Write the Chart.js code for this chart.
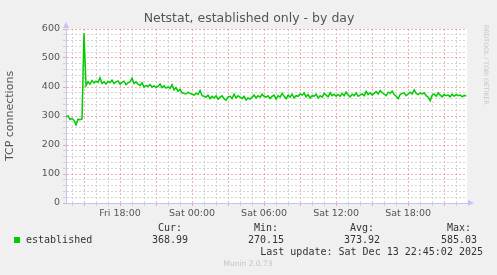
<!DOCTYPE html>
<html>
<head>
<meta charset="utf-8">
<script src="https://cdn.jsdelivr.net/npm/chart.js@4/dist/chart.umd.min.js"></script>
<style>
  html, body { margin: 0; padding: 0; background: #f0f0f0; }
  #wrap { width: 497px; height: 275px; }
</style>
</head>
<body>
<div id="wrap"><canvas id="myChart" width="497" height="275"></canvas></div>
<script>
// hours counted from Fri 00:00, one sample every 10 minutes
const startHour = 13.5;
const stepHour = 1 / 6;
const xMin = 13.5;
const xMax = 46.9;

const established = [
  297, 300, 288, 292, 285, 270, 289, 287, 290,
  585,
  405, 418, 410, 422, 414, 420,
  416, 432, 412, 418, 410, 420,
  415, 424, 412, 418, 421, 410,
  416, 420, 408, 414, 418, 430,
  412, 418, 410, 405, 415, 400,
  405, 402, 408, 400, 404, 398,
  402, 410, 398, 404, 396, 400,
  395, 408, 390, 398, 385, 392,
  380, 378, 376, 382, 378, 375,
  372, 378, 375, 388, 370, 368,
  365, 372, 360, 368, 362, 370,
  358, 365, 370, 360, 355, 366,
  368, 360, 375, 362, 370, 365,
  360, 368, 355, 362, 358, 365,
  372, 362, 370, 365, 375, 368,
  365, 370, 360, 368, 372, 358,
  370, 365, 378, 368, 360, 372,
  365, 375, 362, 370, 368, 376,
  372, 380, 366, 374, 362, 370,
  368, 375, 362, 370, 365, 378,
  372, 366, 380, 370, 375, 368,
  374, 368, 378, 370, 382, 372,
  366, 375, 370, 380, 368, 372,
  376, 370, 385, 374, 380, 372,
  378, 384, 376, 388, 380, 375,
  370, 382, 378, 386, 374, 368,
  360, 374, 378, 380, 370, 376,
  382, 376, 390, 378, 374, 380,
  376, 380, 370, 365, 353, 372,
  376, 368, 380, 372, 366, 374,
  370, 372, 366, 375, 368, 374,
  370, 372, 366, 371, 369
];

const times = established.map((v, i) => startHour + i * stepHour);

const xLabels = { 18: 'Fri 18:00', 24: 'Sat 00:00', 30: 'Sat 06:00', 36: 'Sat 12:00', 42: 'Sat 18:00' };

const chartTitle = 'Netstat, established only - by day';
const statHeads = ['Cur:', 'Min:', 'Avg:', 'Max:'];
const statValues = ['368.99', '270.15', '373.92', '585.03'];
const lastUpdate = 'Last update: Sat Dec 13 22:45:02 2025';

const majorGrid = 'rgba(235, 120, 120, 0.6)';
const minorGrid = '#d4d4d4';
const axisBlue = '#c4c4f4';

const munin = {
  id: 'munin',
  beforeDraw(chart) {
    const { ctx, chartArea: a } = chart;
    ctx.save();
    ctx.fillStyle = '#f0f0f0';
    ctx.fillRect(0, 0, chart.width, chart.height);
    ctx.fillStyle = '#ffffff';
    ctx.fillRect(a.left, a.top, a.right - a.left, a.bottom - a.top);
    ctx.restore();
  },
  afterDraw(chart) {
    const { ctx, chartArea: a } = chart;
    ctx.save();
    // title
    ctx.font = '12.5px "DejaVu Sans"';
    ctx.fillStyle = '#555';
    ctx.textAlign = 'center';
    ctx.textBaseline = 'middle';
    ctx.fillText(chartTitle, 249, 19);

    // axis arrows
    ctx.fillStyle = axisBlue;
    ctx.beginPath();
    ctx.moveTo(a.left - 3, a.top - 1);
    ctx.lineTo(a.left + 3, a.top - 1);
    ctx.lineTo(a.left, a.top - 7);
    ctx.fill();
    ctx.beginPath();
    ctx.moveTo(a.right + 1, a.bottom - 3);
    ctx.lineTo(a.right + 1, a.bottom + 3);
    ctx.lineTo(a.right + 7, a.bottom);
    ctx.fill();

    // rrdtool credit
    ctx.save();
    ctx.translate(486, 25);
    ctx.rotate(Math.PI / 2);
    ctx.font = '6.2px "DejaVu Sans"';
    ctx.fillStyle = '#c8c8c8';
    ctx.textAlign = 'left';
    ctx.textBaseline = 'middle';
    ctx.fillText('RRDTOOL / TOBI OETIKER', 0, 0);
    ctx.restore();

    // legend table
    ctx.font = '10px "DejaVu Sans Mono"';
    ctx.textBaseline = 'middle';
    ctx.fillStyle = '#00cc00';
    ctx.fillRect(14, 237, 6, 6);
    ctx.fillStyle = '#333';
    ctx.textAlign = 'left';
    ctx.fillText('established', 26, 240);
    const rights = [188, 284, 380, 477];
    ctx.textAlign = 'right';
    statHeads.forEach((h, i) => ctx.fillText(h, rights[i] - 6, 228));
    statValues.forEach((v, i) => ctx.fillText(v, rights[i], 240));
    ctx.fillText(lastUpdate, 483, 252);

    ctx.font = '7.5px "DejaVu Sans"';
    ctx.fillStyle = '#c4c4c4';
    ctx.textAlign = 'center';
    ctx.fillText('Munin 2.0.73', 248, 264);
    ctx.restore();
  }
};

Chart.defaults.font.family = '"DejaVu Sans", sans-serif';
Chart.defaults.color = '#555';

const cts = document.querySelector('#myChart').getContext('2d');

const myChart = new Chart(cts, {
  type: 'line',
  data: {
    datasets: [{
      label: 'established',
      data: times.map((t, i) => ({ x: t, y: established[i] })),
      borderColor: '#00cc00',
      borderWidth: 1.5,
      pointRadius: 0,
      tension: 0,
      fill: false
    }]
  },
  options: {
    responsive: false,
    animation: false,
    layout: { padding: { left: 0, right: 30, top: 29, bottom: 52 } },
    plugins: {
      legend: { display: false },
      tooltip: { enabled: false },
      title: { display: false }
    },
    scales: {
      x: {
        type: 'linear',
        min: xMin,
        max: xMax,
        afterBuildTicks(scale) {
          const t = [];
          for (let h = 14; h <= 46; h++) t.push({ value: h });
          scale.ticks = t;
        },
        afterFit(scale) { scale.height = 20; },
        ticks: {
          autoSkip: false,
          maxRotation: 0,
          padding: 2,
          font: { size: 9.5 },
          color: '#555',
          callback: (v) => xLabels[v] || ''
        },
        grid: {
          color: (c) => (c.tick && c.tick.value % 3 === 0 ? majorGrid : minorGrid),
          tickColor: (c) => (c.tick && c.tick.value % 3 === 0 ? majorGrid : minorGrid),
          tickLength: 3,
          lineWidth: 1
        },
        border: { display: true, color: axisBlue, dash: [2, 2] }
      },
      y: {
        min: 0,
        max: 600,
        ticks: {
          stepSize: 20,
          autoSkip: false,
          padding: 3,
          font: { size: 9.5 },
          color: '#555',
          callback: (v) => (v % 100 === 0 ? v : '')
        },
        afterFit(scale) { scale.width = 66; },
        title: {
          display: true,
          text: 'TCP connections',
          color: '#555',
          font: { size: 11 },
          padding: { top: 4, bottom: 0 }
        },
        grid: {
          color: (c) => (c.tick && c.tick.value % 100 === 0 ? majorGrid : minorGrid),
          tickColor: (c) => (c.tick && c.tick.value % 100 === 0 ? majorGrid : minorGrid),
          tickLength: 3,
          lineWidth: 1
        },
        border: { display: true, color: axisBlue, dash: [2, 2] }
      }
    }
  },
  plugins: [munin]
});
</script>
</body>
</html>
